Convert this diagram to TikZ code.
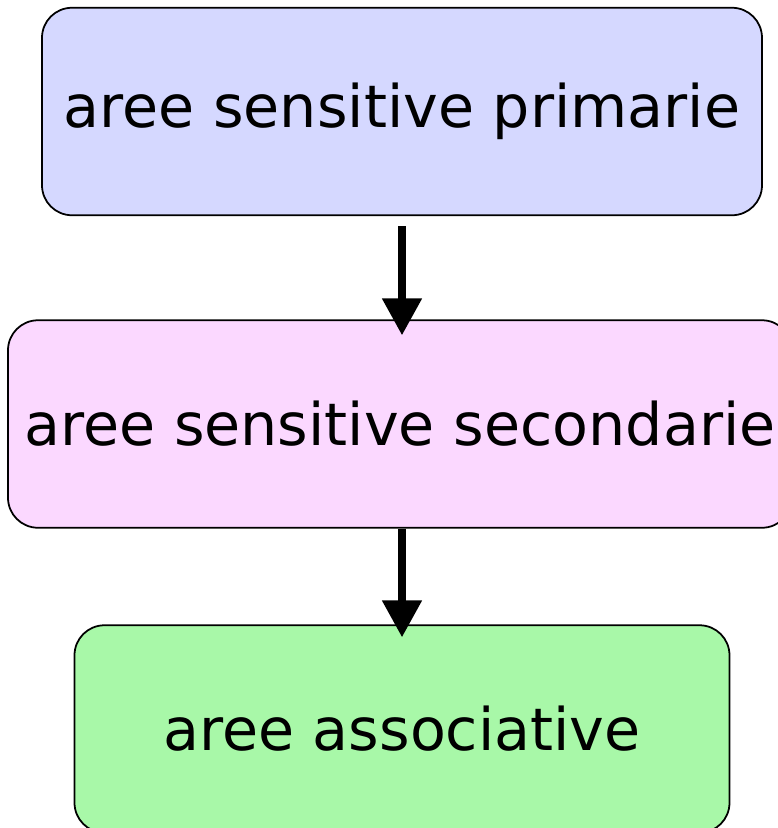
\documentclass[tikz,border=0pt]{standalone}
\usepackage{fontspec}
\setmainfont{DejaVu Sans}
\usetikzlibrary{arrows.meta}
\definecolor{primcol}{HTML}{D5D8FF}
\definecolor{seccol}{HTML}{FBD8FF}
\definecolor{asscol}{HTML}{A8F8A8}
\begin{document}
\begin{tikzpicture}
		\tikzstyle{area} = [rectangle,rounded corners=0.6cm,draw=black,line width=1pt,minimum height=4.15cm,font=\fontsize{33.4}{40}\selectfont]
		\tikzstyle{arr} = [line width=4.5pt,-{Triangle[width=0.76cm,length=0.74cm]}]
		\useasboundingbox (0,0) rectangle (15.56,-16.56);

		\node[area,fill=primcol,minimum width=14.4cm] (prim) at (8.04,-2.23) {aree sensitive primarie};
		\node[area,fill=seccol,minimum width=15.68cm] (sec) at (8.0,-8.48) {aree sensitive secondarie};
		\node[area,fill=asscol,minimum width=13.1cm] (ass) at (8.04,-14.58) {aree associative};

		\draw[arr] ([yshift=-0.2cm]prim.south) -- ([yshift=-0.32cm]prim.south |- sec.north);
		\draw[arr] (ass.north |- sec.south) -- ([yshift=-0.26cm]ass.north);
	\end{tikzpicture}
\end{document}
